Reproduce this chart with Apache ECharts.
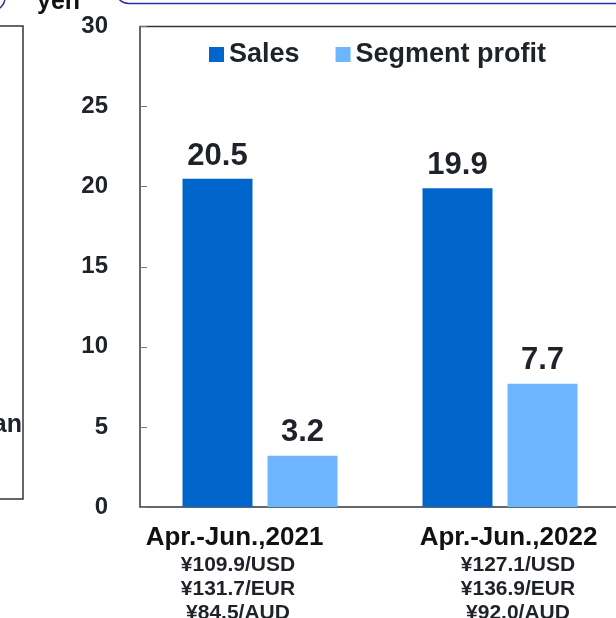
<!DOCTYPE html>
<html>
<head>
<meta charset="utf-8">
<script src="https://cdn.jsdelivr.net/npm/echarts@6/dist/echarts.min.js"></script>
<style>
html,body{margin:0;padding:0;background:#fff;}
#main{width:616px;height:618px;}
</style>
</head>
<body>
<div id="main"></div>
<script>
const categories = ['Apr.-Jun.,2021', 'Apr.-Jun.,2022'];
const usdRates = ['¥109.9/USD', '¥127.1/USD'];
const eurRates = ['¥131.7/EUR', '¥136.9/EUR'];
const audRates = ['¥84.5/AUD', '¥92.0/AUD'];
const sales = [20.5, 19.9];
const segmentProfit = [3.2, 7.7];
const seriesNames = ['Sales', 'Segment profit'];
const unitLabel = 'yen';
const sideLabel = 'an';

const FONT = '"Liberation Sans", Arial, sans-serif';
const TXT = '#1f2329';

const chart = echarts.init(document.getElementById('main'), null, {renderer: 'canvas'});

const option = {
  backgroundColor: '#fff',
  animation: false,
  textStyle: {fontFamily: FONT},
  grid: {
    left: 140, top: 26.5, width: 480, bottom: 111,
    outerBoundsMode: 'none',
    show: true, borderColor: '#30363c', borderWidth: 1.5, containLabel: false
  },
  legend: {
    data: seriesNames,
    left: 204, top: 36,
    itemWidth: 15, itemHeight: 15, itemGap: 36,
    icon: 'rect',
    textStyle: {fontFamily: FONT, fontWeight: 'bold', fontSize: 27, color: TXT, padding: [0, 0, 12, 0]}
  },
  xAxis: {
    type: 'category',
    data: categories,
    axisLine: {show: false},
    axisTick: {show: false},
    axisLabel: {
      margin: 15,
      interval: 0,
      formatter: function (v, i) {
        return '{t' + i + '|' + v + '}\n{s' + i + '|' + usdRates[i] + '}\n{s' + i + '|' + eurRates[i] + '}\n{s' + i + '|' + audRates[i] + '}';
      },
      rich: {
        t0: {fontFamily: FONT, fontWeight: 'bold', fontSize: 26, color: '#111', lineHeight: 31, padding: [0, 51, 0, 0]},
        s0: {fontFamily: FONT, fontWeight: 'bold', fontSize: 21, color: TXT, lineHeight: 24, padding: [0, 44, 0, 0]},
        t1: {fontFamily: FONT, fontWeight: 'bold', fontSize: 26, color: '#111', lineHeight: 31, padding: [0, 0, 0, 17]},
        s1: {fontFamily: FONT, fontWeight: 'bold', fontSize: 21, color: TXT, lineHeight: 24, padding: [0, 0, 0, 36]}
      }
    }
  },
  yAxis: {
    type: 'value',
    min: 0, max: 30, interval: 5,
    axisLine: {show: false},
    axisTick: {show: true, inside: true, length: 7, lineStyle: {color: '#777', width: 1}},
    splitLine: {show: false},
    axisLabel: {margin: 32, fontFamily: FONT, fontWeight: 'bold', fontSize: 24, color: TXT}
  },
  series: [
    {
      name: seriesNames[0], type: 'bar', data: sales,
      barWidth: 70, barGap: '21.43%',
      itemStyle: {color: '#0066cc'},
      label: {show: true, position: 'top', distance: 7, fontFamily: FONT, fontWeight: 'bold', fontSize: 31, color: TXT}
    },
    {
      name: seriesNames[1], type: 'bar', data: segmentProfit,
      barWidth: 70, barGap: '21.43%',
      itemStyle: {color: '#6db6ff'},
      label: {show: true, position: 'top', distance: 8, fontFamily: FONT, fontWeight: 'bold', fontSize: 31, color: TXT}
    }
  ],
  graphic: [
    {type: 'rect', shape: {x: 115, y: -60, width: 540, height: 63.5, r: 14}, style: {fill: 'none', stroke: '#2f2fa0', lineWidth: 1.5}, z: 10},
    {type: 'rect', shape: {x: -300, y: -60, width: 305, height: 70, r: 12}, style: {fill: 'none', stroke: '#2f2fa0', lineWidth: 1.5}, z: 10},
    {type: 'rect', shape: {x: -20, y: 26, width: 43, height: 473}, style: {fill: 'none', stroke: '#30363c', lineWidth: 1.5}, z: 10},
    {type: 'text', x: 37, y: 15, style: {text: unitLabel, fontFamily: FONT, fontWeight: 'bold', fontSize: 25, fill: '#111', verticalAlign: 'bottom'}, z: 10},
    {type: 'text', x: 22, y: 425, style: {text: sideLabel, fontFamily: FONT, fontWeight: 'bold', fontSize: 25, fill: TXT, align: 'right', verticalAlign: 'middle'}, z: 10}
  ]
};
chart.setOption(option);
</script>
</body>
</html>
